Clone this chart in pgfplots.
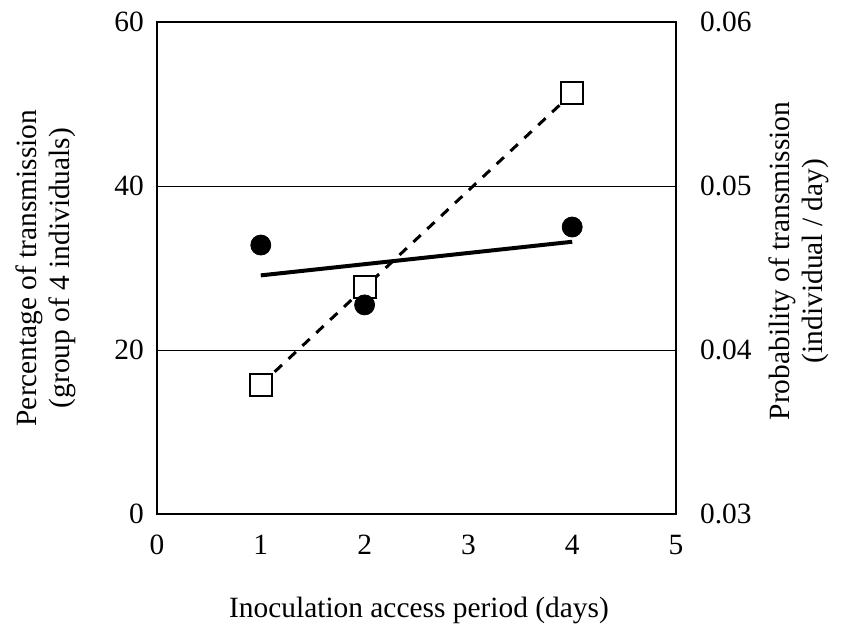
\documentclass[border=0pt]{standalone}
\usepackage{fontspec}
\setmainfont{Liberation Serif}
\usepackage{pgfplots}
\pgfplotsset{compat=1.18}
\begin{document}
\fontsize{14.7}{16.5}\selectfont
\begin{tikzpicture}
% right axis: probability per individual and day (open squares)
\begin{axis}[
  scale only axis, width=259.5pt, height=246pt,
  at={(0,0)}, anchor=south west,
  xmin=0, xmax=5, ymin=0.03, ymax=0.06,
  axis x line=none, axis y line*=right,
  ytick={0.03,0.04,0.05,0.06},
  scaled y ticks=false,
  major tick length=0pt,
  axis line style={line width=0.8pt},
  /pgf/number format/assume math mode=true,
  yticklabel style={xshift=7pt, font=\fontsize{14.7}{16.5}\selectfont,
    /pgf/number format/fixed, /pgf/number format/fixed zerofill,
    /pgf/number format/precision=2},
  clip=false,
]
\addplot[black, line width=1.5pt, dash pattern=on 5pt off 4.5pt]
  coordinates {(1,0.03788)(4,0.05565)};
\addplot[only marks, mark=square*, mark size=5.5pt, black,
  mark options={fill=white, line width=1pt}]
  coordinates {(1,0.03785)(2,0.04385)(4,0.05565)};
\end{axis}
% left axis: percentage of transmission (filled circles)
\begin{axis}[
  scale only axis, width=259.5pt, height=246pt,
  at={(0,0)}, anchor=south west,
  xmin=0, xmax=5, ymin=0, ymax=60,
  xtick={0,1,2,3,4,5}, ytick={0,20,40,60},
  major tick length=0pt,
  ymajorgrids, major grid style={black, line width=0.5pt},
  axis line style={line width=0.8pt},
  tick label style={font=\fontsize{14.7}{16.5}\selectfont},
  /pgf/number format/assume math mode=true,
  xticklabel style={yshift=-5.5pt},
  yticklabel style={xshift=-1.5pt},
  clip=false,
]
\addplot[black, line width=2pt] coordinates {(1,29.1)(4,33.2)};
\addplot[only marks, mark=*, mark size=5pt, black]
  coordinates {(1,32.8)(2,25.5)(4,35.0)};
\end{axis}
\node[rotate=90, align=center] at (-55.5pt,123pt)
  {Percentage of transmission\\(group of 4 individuals)};
\node[rotate=90, align=center] at (321pt,126.5pt)
  {Probability of transmission\\(individual / day)};
\node at (131pt,-48pt) {Inoculation access period (days)};
\pgfresetboundingbox
\useasboundingbox (-78.5pt,-62pt) rectangle (342.5pt,257pt);
\end{tikzpicture}
\end{document}
